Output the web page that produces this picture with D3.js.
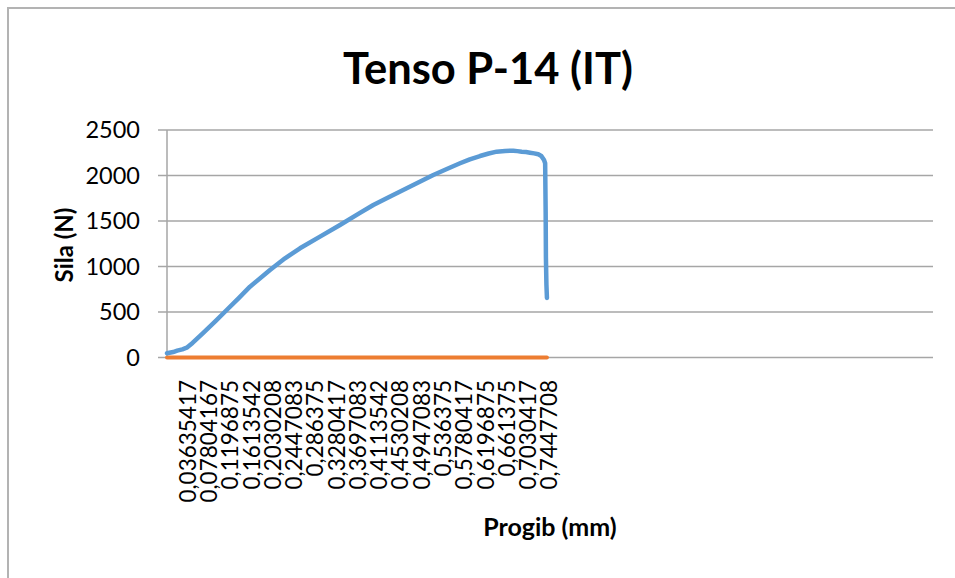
<!DOCTYPE html>
<html>
<head>
<meta charset="utf-8">
<script src="https://cdn.jsdelivr.net/npm/d3@7"></script>
<style>
  html, body { margin: 0; padding: 0; background: #ffffff; }
  svg { display: block; }
  text { font-family: Lato, "Open Sans", sans-serif; fill: #000; }
</style>
</head>
<body>
<svg id="chart" width="955" height="578"></svg>
<script>
// Deflection (mm) and force (N) of the P-14 specimen
const progib = [0.000, 0.012, 0.020, 0.030, 0.0386, 0.050, 0.0705, 0.095, 0.1169, 0.140, 0.1625,
                0.2017, 0.2311, 0.2604, 0.2996, 0.3388, 0.3779, 0.4040, 0.4370, 0.4694, 0.5215,
                0.5480, 0.5738, 0.5930, 0.6129, 0.6300, 0.6456, 0.6620, 0.6781, 0.6860, 0.6946,
                0.7030, 0.7108, 0.7190, 0.7271, 0.7330, 0.7383, 0.7405, 0.7415, 0.7420, 0.7430, 0.7440];
const sila   = [46, 60, 75, 90, 108, 160, 269, 400, 522, 650, 778,
                962, 1090, 1200, 1328, 1456, 1590, 1676, 1770, 1859, 2005,
                2072, 2134, 2178, 2214, 2242, 2262, 2270, 2273, 2268, 2262,
                2258, 2251, 2243, 2233, 2215, 2170, 2134, 1600, 1100, 800, 654];
// Second series recorded alongside: all zero
const sila2  = [0, 0, 0, 0, 0, 0, 0, 0, 0, 0, 0,
                0, 0, 0, 0, 0, 0, 0, 0, 0, 0,
                0, 0, 0, 0, 0, 0, 0, 0, 0, 0,
                0, 0, 0, 0, 0, 0, 0, 0, 0, 0, 0];

const xTickLabels = ["0,03635417", "0,07804167", "0,1196875", "0,1613542", "0,2030208", "0,2447083",
                     "0,286375", "0,3280417", "0,3697083", "0,4113542", "0,4530208", "0,4947083",
                     "0,536375", "0,5780417", "0,6196875", "0,661375", "0,7030417", "0,7447708"];
const yTicks = [0, 500, 1000, 1500, 2000, 2500];

const title = "Tenso P-14 (IT)";
const xTitle = "Progib (mm)";
const yTitle = "Sila (N)";

const svg = d3.select("#chart");

// chart-area border (left and top edges)
svg.append("path")
  .attr("d", "M8,578 L8,8 L955,8")
  .attr("fill", "none")
  .attr("stroke", "#b3b3b3")
  .attr("stroke-width", 2);

const plot = { left: 167, right: 933, top: 130, bottom: 357.5 };

const x = d3.scaleLinear().domain([0, 1.5]).range([plot.left, plot.right]);
const y = d3.scaleLinear().domain([0, 2500]).range([plot.bottom, plot.top]);

// horizontal gridlines
svg.append("g")
  .selectAll("line")
  .data(yTicks)
  .join("line")
  .attr("x1", plot.left - 9)
  .attr("x2", plot.right)
  .attr("y1", d => y(d))
  .attr("y2", d => y(d))
  .attr("stroke", "#a6a6a6")
  .attr("stroke-width", 1.5);

// vertical axis line
svg.append("line")
  .attr("x1", plot.left).attr("x2", plot.left)
  .attr("y1", y(2500)).attr("y2", y(0))
  .attr("stroke", "#a6a6a6")
  .attr("stroke-width", 1.5);

// y tick labels
svg.append("g")
  .selectAll("text")
  .data(yTicks)
  .join("text")
  .attr("x", 140)
  .attr("y", d => y(d))
  .attr("dy", "0.36em")
  .attr("text-anchor", "end")
  .attr("font-size", 23.5)
  .text(d => d);

// x tick labels (rotated)
const parseLabel = s => +s.replace(",", ".");
svg.append("g")
  .selectAll("text")
  .data(xTickLabels)
  .join("text")
  .attr("transform", d => `translate(${x(parseLabel(d)) + 2},380) rotate(-90)`)
  .attr("dy", "0.36em")
  .attr("text-anchor", "end")
  .attr("font-size", 22.5)
  .text(d => d);

// series
const line = d3.line().x(d => x(d[0])).y(d => y(d[1]));

svg.append("path")
  .datum(progib.map((p, i) => [p, sila2[i]]))
  .attr("fill", "none")
  .attr("stroke", "#ed7d31")
  .attr("stroke-width", 4)
  .attr("stroke-linecap", "round")
  .attr("d", line);

svg.append("path")
  .datum(progib.map((p, i) => [p, sila[i]]))
  .attr("fill", "none")
  .attr("stroke", "#5b9bd5")
  .attr("stroke-width", 4.5)
  .attr("stroke-linejoin", "round")
  .attr("stroke-linecap", "round")
  .attr("d", line);

// titles
svg.append("text")
  .attr("x", 488)
  .attr("y", 84)
  .attr("text-anchor", "middle")
  .attr("font-size", 43.5)
  .attr("font-weight", "bold")
  .text(title);

svg.append("text")
  .attr("x", 550)
  .attr("y", 536)
  .attr("text-anchor", "middle")
  .attr("font-size", 25)
  .attr("font-weight", "bold")
  .text(xTitle);

svg.append("text")
  .attr("transform", "translate(73,245) rotate(-90)")
  .attr("text-anchor", "middle")
  .attr("font-size", 24)
  .attr("font-weight", "bold")
  .text(yTitle);
</script>
</body>
</html>
